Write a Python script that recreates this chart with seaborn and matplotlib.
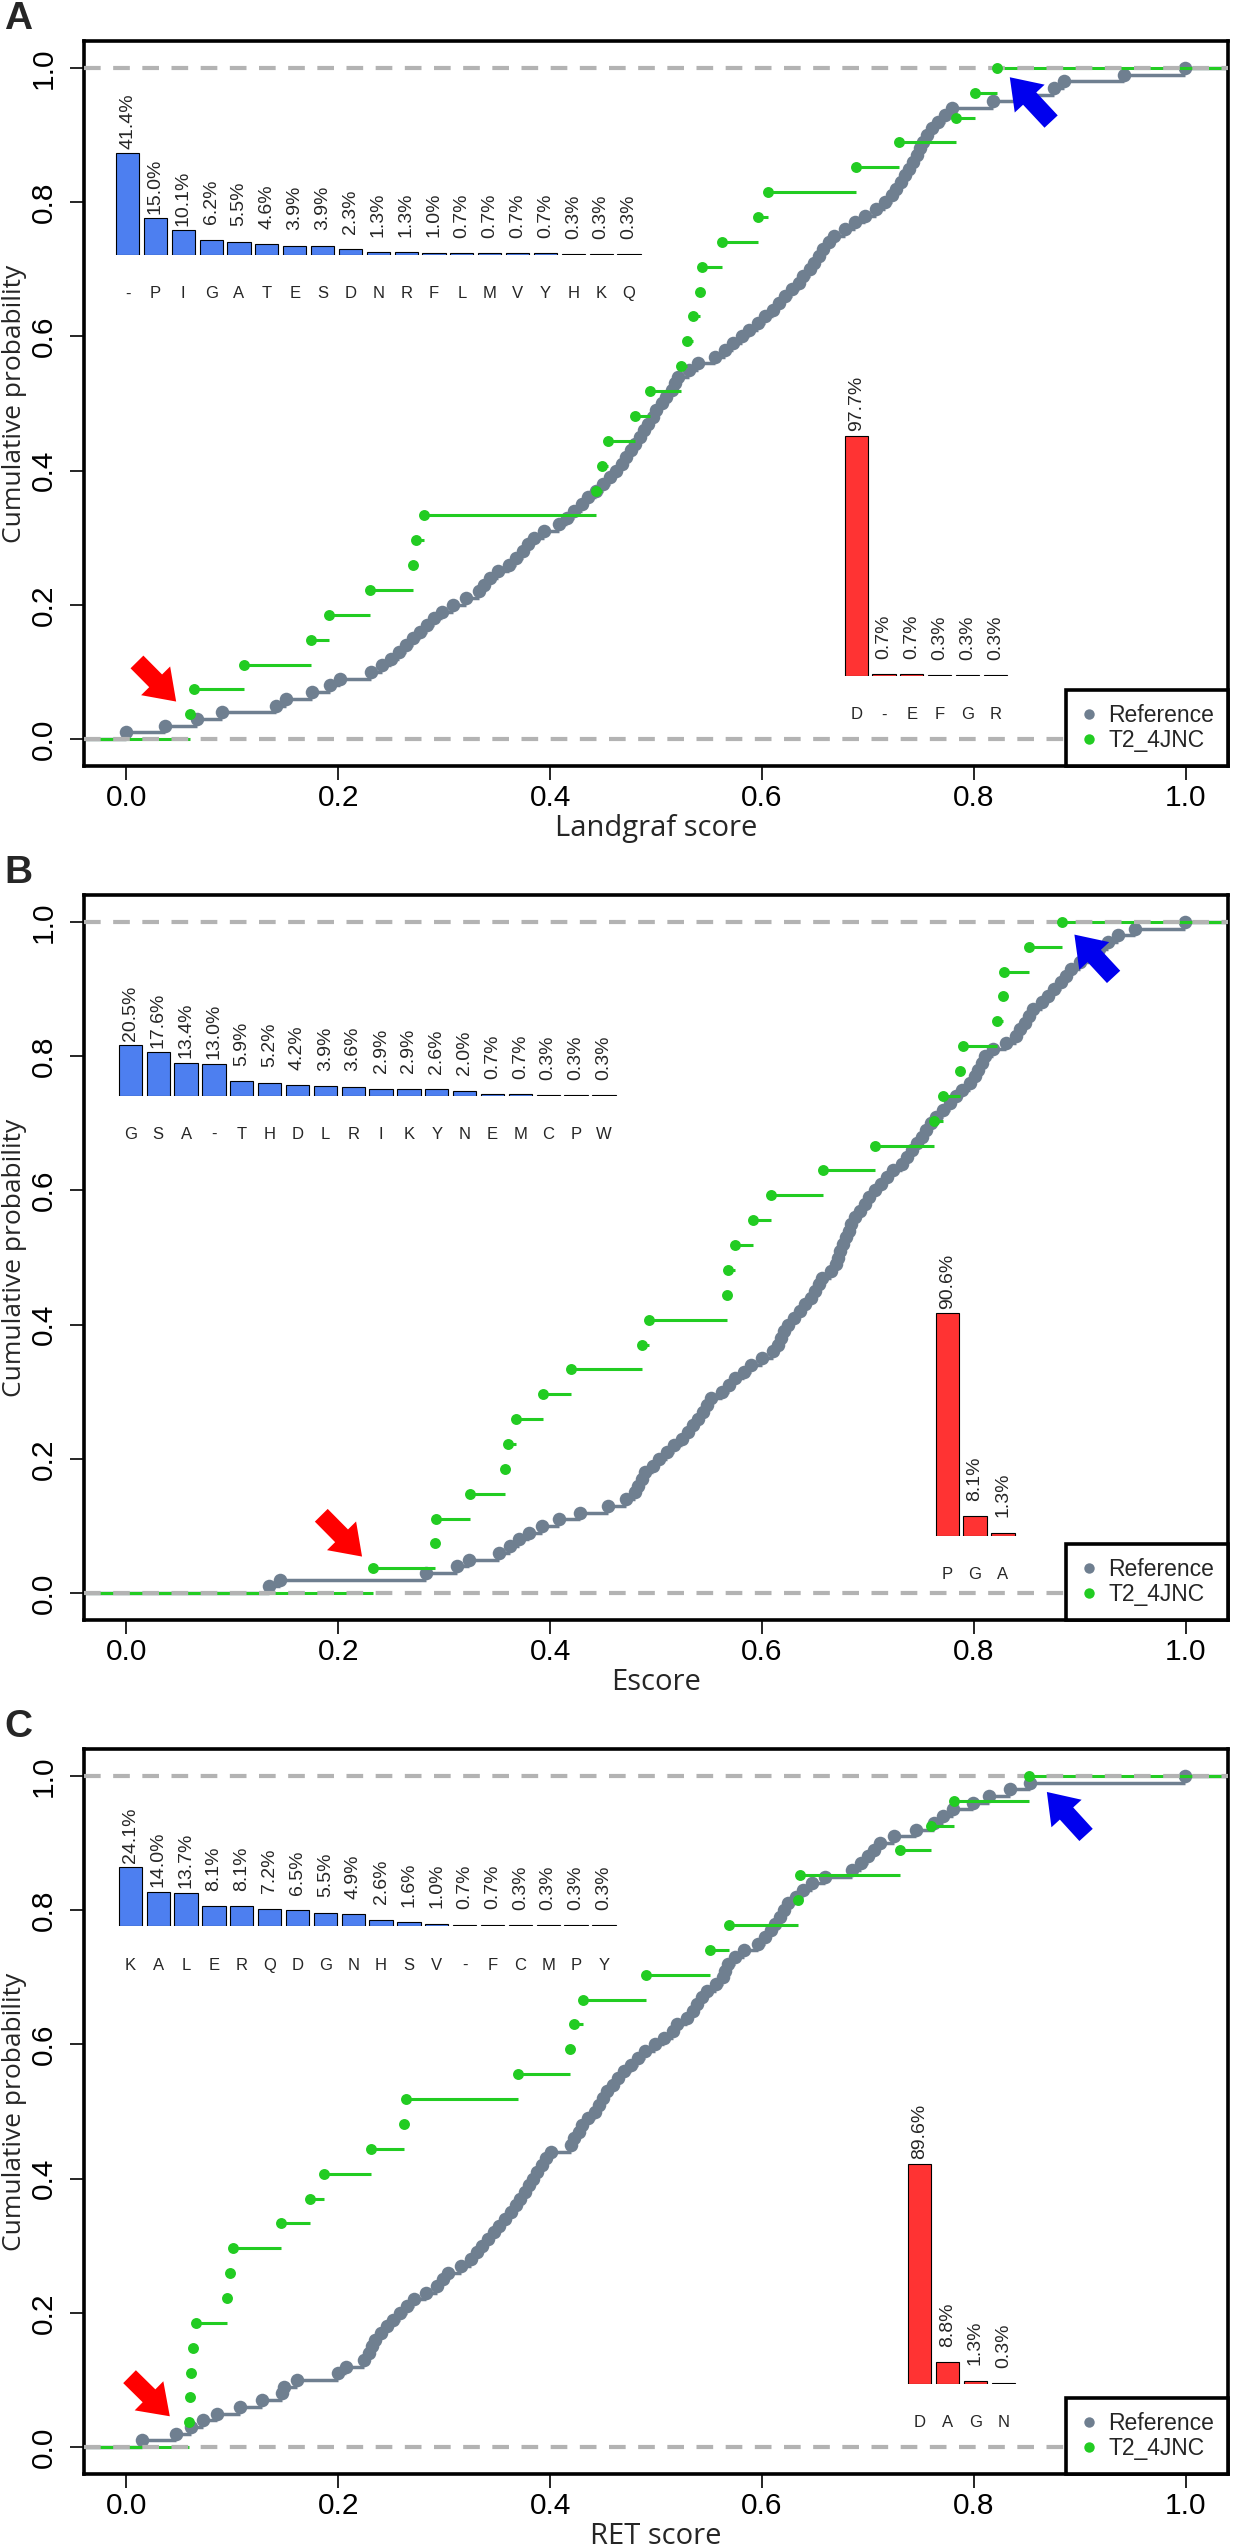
import numpy as np
import matplotlib
matplotlib.use("Agg")
import matplotlib.pyplot as plt
from matplotlib.lines import Line2D
import seaborn as sns

# ---------------- data ----------------
ref_A = [0.000, 0.036, 0.067, 0.090, 0.141, 0.151, 0.175, 0.192, 0.202, 0.231,
         0.241, 0.250, 0.257, 0.264, 0.271, 0.277, 0.284, 0.290, 0.298, 0.308,
         0.321, 0.333, 0.338, 0.343, 0.351, 0.361, 0.368, 0.374, 0.379, 0.385,
         0.394, 0.408, 0.416, 0.423, 0.430, 0.436, 0.443, 0.450, 0.457, 0.462,
         0.468, 0.472, 0.476, 0.480, 0.485, 0.489, 0.492, 0.497, 0.500, 0.506,
         0.509, 0.515, 0.518, 0.521, 0.531, 0.540, 0.556, 0.565, 0.573, 0.581,
         0.588, 0.596, 0.603, 0.610, 0.616, 0.622, 0.628, 0.635, 0.639, 0.645,
         0.649, 0.654, 0.658, 0.663, 0.668, 0.678, 0.688, 0.697, 0.708, 0.716,
         0.723, 0.727, 0.731, 0.735, 0.739, 0.743, 0.746, 0.749, 0.752, 0.756,
         0.761, 0.766, 0.773, 0.779, 0.818, 0.845, 0.876, 0.885, 0.942, 0.999]
t2_A = [0.060, 0.064, 0.111, 0.174, 0.191, 0.230, 0.271, 0.273, 0.281, 0.443,
        0.449, 0.455, 0.480, 0.494, 0.524, 0.529, 0.535, 0.542, 0.543, 0.562,
        0.596, 0.606, 0.689, 0.729, 0.783, 0.801, 0.822]
blue_lab_A = ["-", "P", "I", "G", "A", "T", "E", "S", "D", "N", "R", "F", "L",
              "M", "V", "Y", "H", "K", "Q"]
blue_val_A = [41.4, 15.0, 10.1, 6.2, 5.5, 4.6, 3.9, 3.9, 2.3, 1.3, 1.3, 1.0,
              0.7, 0.7, 0.7, 0.7, 0.3, 0.3, 0.3]
red_lab_A = ["D", "-", "E", "F", "G", "R"]
red_val_A = [97.7, 0.7, 0.7, 0.3, 0.3, 0.3]

ref_B = [0.135, 0.145, 0.283, 0.312, 0.323, 0.352, 0.362, 0.371, 0.380, 0.392,
         0.408, 0.428, 0.455, 0.472, 0.480, 0.483, 0.487, 0.490, 0.497, 0.503,
         0.510, 0.517, 0.525, 0.530, 0.535, 0.540, 0.544, 0.548, 0.552, 0.562,
         0.569, 0.575, 0.583, 0.590, 0.600, 0.610, 0.615, 0.618, 0.621, 0.625,
         0.630, 0.636, 0.641, 0.646, 0.650, 0.654, 0.657, 0.665, 0.670, 0.672,
         0.674, 0.677, 0.679, 0.682, 0.684, 0.688, 0.693, 0.697, 0.701, 0.707,
         0.712, 0.718, 0.724, 0.732, 0.737, 0.742, 0.746, 0.751, 0.755, 0.760,
         0.764, 0.771, 0.778, 0.783, 0.789, 0.796, 0.801, 0.804, 0.808, 0.811,
         0.818, 0.830, 0.840, 0.844, 0.848, 0.852, 0.856, 0.864, 0.870, 0.876,
         0.882, 0.887, 0.892, 0.900, 0.909, 0.918, 0.927, 0.936, 0.952, 0.999]
t2_B = [0.233, 0.291, 0.292, 0.324, 0.357, 0.360, 0.368, 0.393, 0.420, 0.487,
        0.493, 0.567, 0.568, 0.575, 0.592, 0.609, 0.658, 0.707, 0.762, 0.771,
        0.787, 0.790, 0.822, 0.828, 0.829, 0.852, 0.883]
blue_lab_B = ["G", "S", "A", "-", "T", "H", "D", "L", "R", "I", "K", "Y", "N",
              "E", "M", "C", "P", "W"]
blue_val_B = [20.5, 17.6, 13.4, 13.0, 5.9, 5.2, 4.2, 3.9, 3.6, 2.9, 2.9, 2.6,
              2.0, 0.7, 0.7, 0.3, 0.3, 0.3]
red_lab_B = ["P", "G", "A"]
red_val_B = [90.6, 8.1, 1.3]

ref_C = [0.015, 0.047, 0.061, 0.072, 0.086, 0.107, 0.128, 0.147, 0.149, 0.161,
         0.200, 0.207, 0.224, 0.229, 0.232, 0.235, 0.240, 0.246, 0.252, 0.258,
         0.265, 0.272, 0.283, 0.293, 0.299, 0.304, 0.316, 0.325, 0.331, 0.336,
         0.341, 0.347, 0.352, 0.357, 0.363, 0.368, 0.372, 0.376, 0.380, 0.384,
         0.388, 0.392, 0.396, 0.401, 0.420, 0.423, 0.427, 0.430, 0.436, 0.442,
         0.446, 0.450, 0.454, 0.459, 0.464, 0.470, 0.476, 0.483, 0.490, 0.499,
         0.508, 0.516, 0.520, 0.529, 0.535, 0.539, 0.543, 0.548, 0.557, 0.563,
         0.565, 0.568, 0.575, 0.583, 0.596, 0.603, 0.609, 0.612, 0.617, 0.621,
         0.625, 0.632, 0.639, 0.647, 0.660, 0.685, 0.694, 0.700, 0.706, 0.711,
         0.725, 0.745, 0.762, 0.771, 0.780, 0.799, 0.814, 0.834, 0.853, 0.999]
t2_C = [0.059, 0.060, 0.061, 0.063, 0.066, 0.095, 0.098, 0.101, 0.146, 0.173,
        0.187, 0.231, 0.262, 0.264, 0.370, 0.419, 0.423, 0.431, 0.491, 0.551,
        0.569, 0.634, 0.636, 0.730, 0.760, 0.781, 0.852]
blue_lab_C = ["K", "A", "L", "E", "R", "Q", "D", "G", "N", "H", "S", "V", "-",
              "F", "C", "M", "P", "Y"]
blue_val_C = [24.1, 14.0, 13.7, 8.1, 8.1, 7.2, 6.5, 5.5, 4.9, 2.6, 1.6, 1.0,
              0.7, 0.7, 0.3, 0.3, 0.3, 0.3]
red_lab_C = ["D", "A", "G", "N"]
red_val_C = [89.6, 8.8, 1.3, 0.3]

x_labels = ["Landgraf score", "Escore", "RET score"]
panel_letters = ["A", "B", "C"]
legend_labels = ["Reference", "T2_4JNC"]
y_label = "Cumulative probability"
tick_values = [0.0, 0.2, 0.4, 0.6, 0.8, 1.0]

# ---------------- style ----------------
sns.set_style("white")
plt.rcParams["font.family"] = ["Liberation Sans", "DejaVu Sans"]

GREY = "#6f7f90"
GREEN = "#22cc22"
BLUE = "#4d7ff0"
RED = "#ff3333"
DASH = "#b3b3b3"
LABEL_FONT = ["Open Sans", "DejaVu Sans"]

W, H = 1233, 2548
fig = plt.figure(figsize=(W / 100, H / 100), dpi=100)

PCT = 0.00366   # data units per percent in the insets
SPC = 0.0263    # data units per inset bar slot

panels = [
    dict(ref=ref_A, t2=t2_A, bl=blue_lab_A, bv=blue_val_A, rl=red_lab_A, rv=red_val_A,
         top=41, blue_pos=(-0.0120, 0.721), red_pos=(0.6758, 0.094),
         red_arrow=((0.010, 0.115), (0.047, 0.056)),
         blue_arrow=((0.873, 0.920), (0.834, 0.986))),
    dict(ref=ref_B, t2=t2_B, bl=blue_lab_B, bv=blue_val_B, rl=red_lab_B, rv=red_val_B,
         top=895, blue_pos=(-0.0094, 0.741), red_pos=(0.7618, 0.085),
         red_arrow=((0.184, 0.116), (0.2225, 0.0545)),
         blue_arrow=((0.932, 0.918), (0.895, 0.981))),
    dict(ref=ref_C, t2=t2_C, bl=blue_lab_C, bv=blue_val_C, rl=red_lab_C, rv=red_val_C,
         top=1749, blue_pos=(-0.0094, 0.776), red_pos=(0.7358, 0.094),
         red_arrow=((0.003, 0.105), (0.041, 0.046)),
         blue_arrow=((0.906, 0.912), (0.869, 0.976))),
]


def draw_inset(ax, labels, vals, pos, color):
    n = len(vals)
    iax = ax.inset_axes([pos[0], pos[1], n * SPC, 100 * PCT], transform=ax.transData)
    sns.barplot(x=labels, y=vals, order=labels, ax=iax, color=color, saturation=1,
                width=0.833, edgecolor="black", linewidth=0.8, errorbar=None)
    iax.set_xlim(-0.5, n - 0.5)
    iax.set_ylim(0, 100)
    iax.axis("off")
    iax.patch.set_alpha(0)
    for i, (lab, v) in enumerate(zip(labels, vals)):
        iax.text(i, v + 24.4, f"{v:.1f}%", rotation=90, rotation_mode="anchor",
                 ha="right", va="center", fontsize=14, clip_on=False, zorder=5)
        iax.text(i, -15.8, lab, ha="center", va="center", fontsize=12, clip_on=False)


for k, p in enumerate(panels):
    top = p["top"]
    bottom = top + 725
    ax = fig.add_axes([84 / W, 1 - bottom / H, 1144 / W, 725 / H])
    ax.set_xlim(-0.04, 1.04)
    ax.set_ylim(-0.04, 1.04)

    # reference ECDF
    ref = np.sort(np.asarray(p["ref"], dtype=float))
    ry = np.arange(1, len(ref) + 1) / len(ref)
    ax.hlines(np.r_[0, ry], np.r_[-0.5, ref], np.r_[ref, 1.5], color=GREY, lw=2.5, zorder=2)
    sns.scatterplot(x=ref, y=ry, ax=ax, color=GREY, s=95, linewidth=0, zorder=3)

    # T2_4JNC ECDF
    t2 = np.sort(np.asarray(p["t2"], dtype=float))
    gy = np.arange(1, len(t2) + 1) / len(t2)
    ax.hlines(np.r_[0, gy], np.r_[-0.5, t2], np.r_[t2, 1.5], color=GREEN, lw=2.2, zorder=4)
    sns.scatterplot(x=t2, y=gy, ax=ax, color=GREEN, s=62, linewidth=0, zorder=6)

    # dashed 0 / 1 lines
    for yy in (0.0, 1.0):
        ax.axhline(yy, color=DASH, lw=3.0, dashes=(4, 3), zorder=5)

    # insets
    draw_inset(ax, p["bl"], p["bv"], p["blue_pos"], BLUE)
    draw_inset(ax, p["rl"], p["rv"], p["red_pos"], RED)

    # arrows
    for (tail, tip), col in ((p["red_arrow"], "#ff0000"), (p["blue_arrow"], "#0000ee")):
        ax.annotate("", xy=tip, xytext=tail, xycoords="data", textcoords="data",
                    arrowprops=dict(arrowstyle="simple,head_length=1.0,head_width=1.4,tail_width=0.62",
                                    fc=col, ec=col, lw=0, mutation_scale=21,
                                    shrinkA=0, shrinkB=0), zorder=7)

    # axes styling
    ax.set_xticks(tick_values)
    ax.set_xticklabels([f"{t:.1f}" for t in tick_values])
    ax.set_yticks(tick_values)
    ax.set_yticklabels([f"{t:.1f}" for t in tick_values])
    ax.tick_params(axis="both", direction="out", length=10, width=1.2, labelsize=21.5,
                   bottom=True, left=True, colors="black")
    ax.tick_params(axis="x", pad=3)
    ax.tick_params(axis="y", pad=9)
    for t in ax.get_yticklabels():
        t.set_rotation(90)
        t.set_va("center")
    for s in ax.spines.values():
        s.set_linewidth(2.6)
        s.set_color("black")

    ax.set_xlabel(x_labels[k], fontsize=21, family=LABEL_FONT)
    ax.xaxis.set_label_coords(0.5, -0.066)
    ax.set_ylabel(y_label, fontsize=19, family=LABEL_FONT)
    ax.yaxis.set_label_coords(-0.0495, 0.5)

    # legend
    handles = [Line2D([0], [0], marker="o", ls="none", color=GREY, markersize=7.5, markeredgewidth=0),
               Line2D([0], [0], marker="o", ls="none", color=GREEN, markersize=7.5, markeredgewidth=0)]
    leg = ax.legend(handles, legend_labels, loc="lower right", bbox_to_anchor=(1, 0),
                    bbox_transform=ax.transAxes, borderaxespad=0, frameon=True, fancybox=False,
                    edgecolor="black", framealpha=1, fontsize=16.5, handlelength=0.8,
                    handletextpad=0.45, borderpad=0.6, labelspacing=0.1)
    leg.get_frame().set_linewidth(2.6)
    leg.set_zorder(10)

    # panel letter
    fig.text(18 / W, 1 - (top - 22) / H, panel_letters[k], fontsize=28, fontweight="bold",
             family=["Liberation Sans", "DejaVu Sans"], ha="center", va="center")

fig.savefig("out.png", dpi=100)
